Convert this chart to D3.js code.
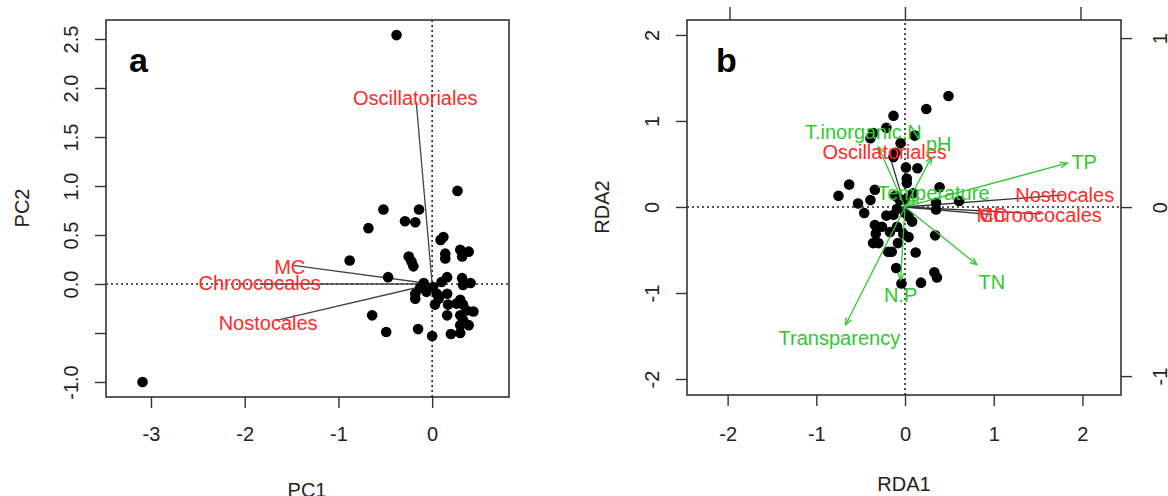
<!DOCTYPE html>
<html>
<head>
<meta charset="utf-8">
<script src="https://cdn.jsdelivr.net/npm/d3@7"></script>
<style>
body { margin: 0; background: #fff; }
text { font-family: "Liberation Sans", Arial, sans-serif; }
</style>
</head>
<body>
<svg id="chart" width="1168" height="496"></svg>
<script>
// ---- panel a : PCA site scores ----
var pcaX = [-0.38, -3.09, 0.27, -0.52, -0.14, -0.68, -0.29, -0.18, -0.88, -0.47,
            -0.25, -0.22, -0.20, 0.12, 0.09, 0.14, 0.14, 0.30, 0.39, 0.32,
            -0.09, -0.13, -0.06, -0.18, -0.18, 0.16, 0.10, 0.32, 0.41, 0.05,
            0.03, 0.07, 0.16, 0.17, 0.16, 0.30, 0.33, 0.37, 0.44, 0.30,
            0.33, 0.39, 0.30, -0.64, -0.49, -0.15, 0.00, 0.20, 0.30, 0.01,
            0.33, 0.26];
var pcaY = [2.54, -1.00, 0.95, 0.76, 0.76, 0.57, 0.64, 0.63, 0.24, 0.07,
            0.28, 0.23, 0.18, 0.48, 0.45, 0.31, 0.26, 0.35, 0.33, 0.28,
            0.01, -0.04, -0.08, -0.10, -0.15, 0.07, 0.02, 0.06, 0.01, -0.10,
            -0.21, -0.15, -0.10, -0.21, -0.32, -0.16, -0.21, -0.27, -0.28, -0.32,
            -0.37, -0.42, -0.42, -0.32, -0.49, -0.46, -0.53, -0.51, -0.50, -0.03,
            -0.01, -0.20];

// species loadings (line tips + label positions)
var pcaVarNames = ["Oscillatoriales", "MC", "Chroococales", "Nostocales"];
var pcaVarX = [-0.17, -1.48, -1.84, -1.66];
var pcaVarY = [1.86, 0.19, 0.0, -0.37];
var pcaLabX = [-0.18, -1.52, -1.84, -1.75];
var pcaLabY = [1.90, 0.18, 0.01, -0.40];

var pcaXTicks = [-3, -2, -1, 0];
var pcaYTicks = [-1, -0.5, 0, 0.5, 1, 1.5, 2, 2.5];
var pcaYLabels = ["-1.0", "", "0.0", "0.5", "1.0", "1.5", "2.0", "2.5"];

// ---- panel b : RDA site scores ----
var rdaX = [0.49, 0.24, -0.13, -0.21, -0.36, -0.39, 0.11, -0.05, -0.13, -0.11,
            0.01, 0.14, 0.02, 0.02, -0.63, -0.75, -0.34, -0.11, 0.09, 0.39,
            0.61, 0.35, 0.35, -0.53, -0.46, -0.39, -0.21, -0.13, 0.00, 0.08,
            -0.34, -0.33, -0.36, -0.26, -0.17, -0.09, -0.02, 0.04, 0.34, -0.19,
            -0.15, 0.12, -0.08, -0.04, -0.10, 0.18, 0.33, 0.36, -0.30, 0.00,
            -0.09, -0.06, 0.04];
var rdaY = [1.29, 1.14, 1.06, 0.92, 0.86, 0.80, 0.83, 0.74, 0.58, 0.63,
            0.46, 0.45, 0.33, 0.28, 0.26, 0.13, 0.20, 0.13, 0.16, 0.23,
            0.07, 0.05, -0.03, 0.04, -0.07, 0.08, -0.10, -0.09, -0.07, -0.17,
            -0.21, -0.31, -0.42, -0.23, -0.29, -0.23, -0.31, -0.35, -0.33, -0.52,
            -0.52, -0.53, -0.42, -0.89, -0.71, -0.88, -0.76, -0.82, -0.42, 0.09,
            -0.02, 0.08, -0.11];

// species (black lines, red labels)
var rdaSpNames = ["Oscillatoriales", "Nostocales", "Chroococales", "MC"];
var rdaSpX = [-0.16, 1.79, 1.53, 0.98];
var rdaSpY = [0.55, 0.14, -0.08, -0.09];
var rdaSpLabX = [-0.23, 1.80, 1.53, 0.98];
var rdaSpLabY = [0.64, 0.14, -0.09, -0.09];

// environmental variables (green arrows)
var envNames = ["TP", "TN", "Transparency", "N.P", "pH", "T.inorganic.N", "Temperature"];
var envX = [1.83, 0.81, -0.67, -0.05, 0.30, -0.30, 0.12];
var envY = [0.51, -0.67, -1.37, -0.85, 0.58, 0.70, 0.08];
var envLabX = [2.02, 0.98, -0.74, -0.05, 0.38, -0.47, 0.32];
var envLabY = [0.52, -0.87, -1.52, -1.02, 0.74, 0.87, 0.17];

var rdaXTicks = [-2, -1, 0, 1, 2];
var rdaYTicks = [-2, -1, 0, 1, 2];
var spTicks = [-1, 0, 1];

var svg = d3.select("#chart");
var ink = "#333";
var red = "#ff2a2a";
var green = "#2fc82f";
var tickLen = 11;
var plain = function(d) { return String(d); };   // R style hyphen minus

svg.append("defs").append("marker")
    .attr("id", "ghead")
    .attr("viewBox", "-8 -5 10 10")
    .attr("refX", 0).attr("refY", 0)
    .attr("markerWidth", 10).attr("markerHeight", 10)
    .attr("markerUnits", "userSpaceOnUse")
    .attr("orient", "auto")
    .append("path")
    .attr("d", "M-7,-3L0,0L-7,3")
    .attr("fill", "none")
    .attr("stroke", green)
    .attr("stroke-width", 1.3);

function styleAxis(g) {
    g.select(".domain").remove();
    g.selectAll(".tick line").attr("stroke", ink).attr("stroke-width", 1.4);
    g.selectAll(".tick text")
        .attr("fill", "#222")
        .style("font-size", "20px");
}

function rotateLabels(g, offset) {
    g.selectAll(".tick text")
        .attr("x", 0).attr("y", 0).attr("dy", 0)
        .attr("text-anchor", "middle")
        .attr("transform", "translate(" + offset + ",0) rotate(-90)");
}

function frame(g, x, y) {
    var r = x.range(), s = y.range();
    g.append("rect")
        .attr("x", r[0]).attr("y", s[1])
        .attr("width", r[1] - r[0]).attr("height", s[0] - s[1])
        .attr("fill", "none").attr("stroke", ink).attr("stroke-width", 1.6);
}

function zeroLines(g, x, y) {
    g.append("line")
        .attr("x1", x.range()[0]).attr("x2", x.range()[1])
        .attr("y1", y(0)).attr("y2", y(0))
        .attr("stroke", "#222").attr("stroke-width", 1.6)
        .attr("stroke-dasharray", "2,3");
    g.append("line")
        .attr("x1", x(0)).attr("x2", x(0))
        .attr("y1", y.range()[0]).attr("y2", y.range()[1])
        .attr("stroke", "#222").attr("stroke-width", 1.6)
        .attr("stroke-dasharray", "2,3");
}

// ================= panel a =================
var xa = d3.scaleLinear().domain([-3.48, 0.82]).range([106, 509]);
var ya = d3.scaleLinear().domain([-1.153, 2.694]).range([397, 20]);
var ga = svg.append("g");

zeroLines(ga, xa, ya);

// species lines
pcaVarNames.forEach(function(n, i) {
    ga.append("line")
        .attr("x1", xa(0)).attr("y1", ya(0))
        .attr("x2", xa(pcaVarX[i])).attr("y2", ya(pcaVarY[i]))
        .attr("stroke", "#444").attr("stroke-width", 1.3);
});

ga.selectAll("circle")
    .data(pcaX.map(function(d, i) { return [d, pcaY[i]]; }))
    .enter().append("circle")
    .attr("cx", function(d) { return xa(d[0]); })
    .attr("cy", function(d) { return ya(d[1]); })
    .attr("r", 5.3)
    .attr("fill", "#000");

pcaVarNames.forEach(function(n, i) {
    ga.append("text")
        .attr("x", xa(pcaLabX[i])).attr("y", ya(pcaLabY[i]))
        .attr("dy", "0.36em")
        .attr("text-anchor", "middle")
        .attr("fill", red)
        .style("font-size", "20px")
        .text(n);
});

frame(ga, xa, ya);

ga.append("g").attr("transform", "translate(0,397)")
    .call(d3.axisBottom(xa).tickValues(pcaXTicks).tickSize(tickLen).tickFormat(plain))
    .call(styleAxis)
    .call(function(g) { g.selectAll(".tick text").attr("y", 44).attr("dy", 0); });

ga.append("g").attr("transform", "translate(106,0)")
    .call(d3.axisLeft(ya).tickValues(pcaYTicks).tickSize(tickLen)
        .tickFormat(function(d, i) { return pcaYLabels[i]; }))
    .call(styleAxis)
    .call(rotateLabels, -28);

ga.append("text").attr("x", 307).attr("y", 497).attr("text-anchor", "middle")
    .attr("fill", "#222").style("font-size", "20px").text("PC1");
ga.append("text").attr("transform", "translate(29,208) rotate(-90)")
    .attr("text-anchor", "middle")
    .attr("fill", "#222").style("font-size", "20px").text("PC2");
ga.append("text").attr("x", 129).attr("y", 72)
    .attr("fill", "#000").style("font-size", "34px").style("font-weight", "bold").text("a");

// ================= panel b =================
var xb = d3.scaleLinear().domain([-2.458, 2.435]).range([687, 1121]);
var yb = d3.scaleLinear().domain([-2.186, 2.174]).range([395, 20]);
var xs = d3.scaleLinear().domain([-1.242, 1.231]).range([687, 1121]);
var ys = d3.scaleLinear().domain([-1.112, 1.107]).range([395, 20]);
var gb = svg.append("g");

zeroLines(gb, xb, yb);

rdaSpNames.forEach(function(n, i) {
    gb.append("line")
        .attr("x1", xb(0)).attr("y1", yb(0))
        .attr("x2", xb(rdaSpX[i])).attr("y2", yb(rdaSpY[i]))
        .attr("stroke", "#333").attr("stroke-width", 1.3);
});

gb.selectAll("circle")
    .data(rdaX.map(function(d, i) { return [d, rdaY[i]]; }))
    .enter().append("circle")
    .attr("cx", function(d) { return xb(d[0]); })
    .attr("cy", function(d) { return yb(d[1]); })
    .attr("r", 5.3)
    .attr("fill", "#000");

envNames.forEach(function(n, i) {
    gb.append("line")
        .attr("x1", xb(0)).attr("y1", yb(0))
        .attr("x2", xb(envX[i])).attr("y2", yb(envY[i]))
        .attr("stroke", green).attr("stroke-width", 1.3)
        .attr("marker-end", "url(#ghead)");
});

rdaSpNames.forEach(function(n, i) {
    gb.append("text")
        .attr("x", xb(rdaSpLabX[i])).attr("y", yb(rdaSpLabY[i]))
        .attr("dy", "0.36em")
        .attr("text-anchor", "middle")
        .attr("fill", red)
        .style("font-size", "20px")
        .text(n);
});

envNames.forEach(function(n, i) {
    gb.append("text")
        .attr("x", xb(envLabX[i])).attr("y", yb(envLabY[i]))
        .attr("dy", "0.36em")
        .attr("text-anchor", "middle")
        .attr("fill", green)
        .style("font-size", "20px")
        .text(n);
});

frame(gb, xb, yb);

gb.append("g").attr("transform", "translate(0,395)")
    .call(d3.axisBottom(xb).tickValues(rdaXTicks).tickSize(tickLen).tickFormat(plain))
    .call(styleAxis)
    .call(function(g) { g.selectAll(".tick text").attr("y", 46).attr("dy", 0); });

gb.append("g").attr("transform", "translate(687,0)")
    .call(d3.axisLeft(yb).tickValues(rdaYTicks).tickSize(tickLen).tickFormat(plain))
    .call(styleAxis)
    .call(rotateLabels, -28);

// secondary species axes (top labels fall outside the picture)
gb.append("g").attr("transform", "translate(0,20)")
    .call(d3.axisTop(xs).tickValues(spTicks).tickSize(13).tickFormat(""))
    .call(styleAxis);

gb.append("g").attr("transform", "translate(1121,0)")
    .call(d3.axisRight(ys).tickValues(spTicks).tickSize(tickLen).tickFormat(plain))
    .call(styleAxis)
    .call(rotateLabels, 46);

gb.append("text").attr("x", 904).attr("y", 491).attr("text-anchor", "middle")
    .attr("fill", "#222").style("font-size", "20px").text("RDA1");
gb.append("text").attr("transform", "translate(609,207) rotate(-90)")
    .attr("text-anchor", "middle")
    .attr("fill", "#222").style("font-size", "20px").text("RDA2");
gb.append("text").attr("x", 716).attr("y", 72)
    .attr("fill", "#000").style("font-size", "34px").style("font-weight", "bold").text("b");
</script>
</body>
</html>
